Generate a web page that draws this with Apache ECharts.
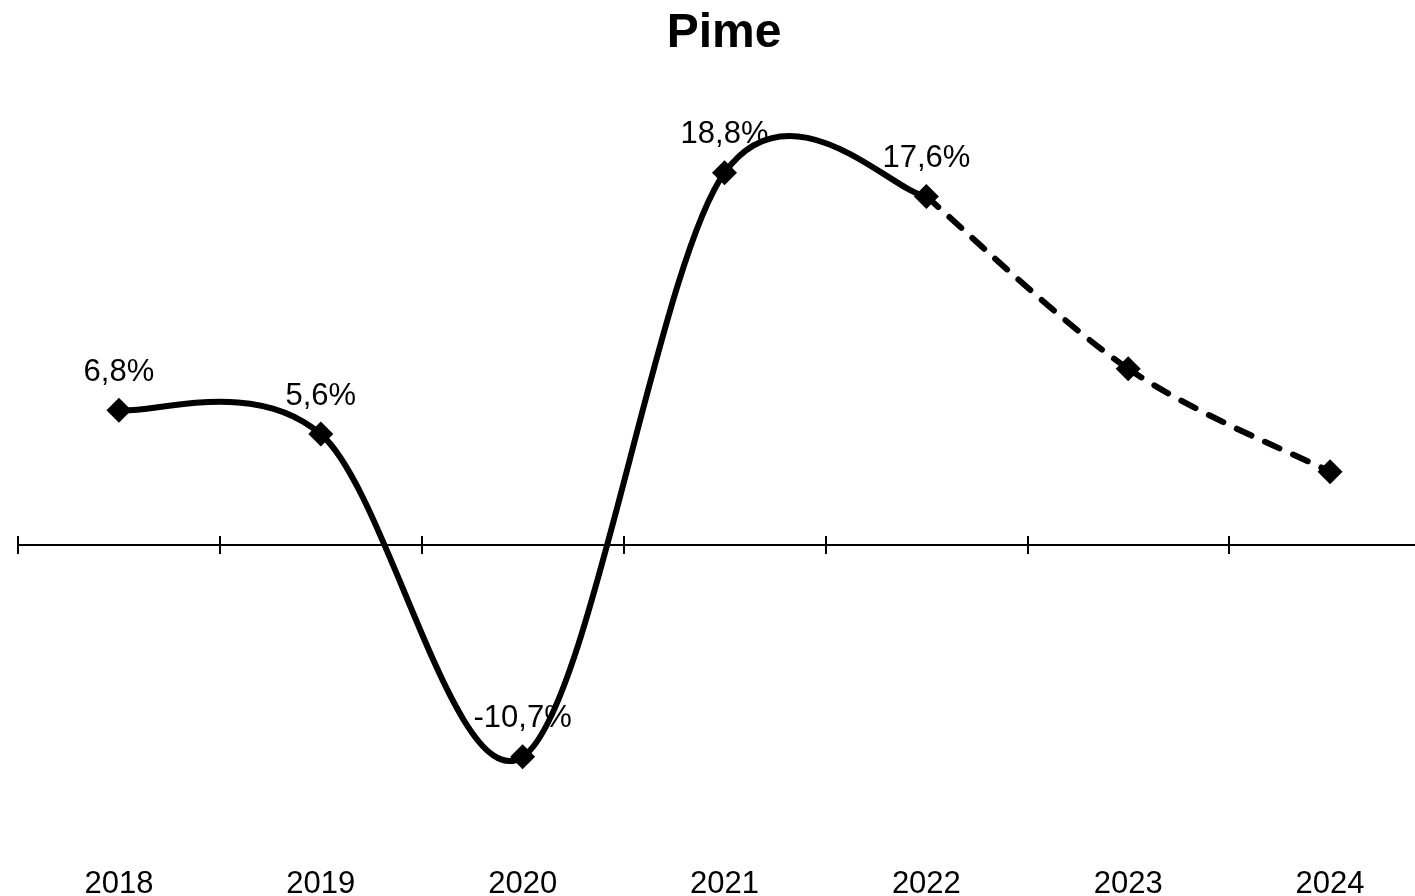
<!DOCTYPE html>
<html>
<head>
<meta charset="utf-8">
<script src="https://cdn.jsdelivr.net/npm/echarts@6/dist/echarts.min.js"></script>
<style>
html,body{margin:0;padding:0;background:#fff;}
#chart{width:1415px;height:896px;}
</style>
</head>
<body>
<div id="chart"></div>
<script>
const years = ['2018', '2019', '2020', '2021', '2022', '2023', '2024'];
const actual = [6.8, 5.6, -10.7, 18.8, 17.6, null, null];
const forecast = [null, null, null, null, 17.6, 8.9, 3.7];
const titleText = 'Pime';

const FONT = '"Liberation Sans", Arial, sans-serif';
const chart = echarts.init(document.getElementById('chart'));

const lineAxis = (pos) => ({
  type: 'category', data: years, position: pos, boundaryGap: true,
  axisLine: { show: true, onZero: true, onZeroAxisIndex: 0, lineStyle: { color: '#000', width: 2 } },
  axisTick: { show: true, length: 9, lineStyle: { color: '#000', width: 2 } },
  axisLabel: { show: false }, splitLine: { show: false }
});

// Smooth (cardinal) curve through the series' points, drawn through the axes' scales
function splineSeries(arr, dashed) {
  const idx = arr.map((v, i) => v == null ? -1 : i).filter(i => i >= 0);
  return {
    type: 'custom', xAxisIndex: 0, yAxisIndex: 0, clip: false, z: 2,
    data: idx.slice(0, -1).map(i => [i, arr[i]]),
    renderItem: function (params, api) {
      const k = params.dataIndex;
      const n = idx.length;
      const P = j => { const jj = Math.max(0, Math.min(n - 1, j)); return api.coord([idx[jj], arr[idx[jj]]]); };
      const p0 = P(k - 1), p1 = P(k), p2 = P(k + 1), p3 = P(k + 2);
      const c1x = p1[0] + (p2[0] - p0[0]) / 6, c1y = p1[1] + (p2[1] - p0[1]) / 6;
      const c2x = p2[0] - (p3[0] - p1[0]) / 6, c2y = p2[1] - (p3[1] - p1[1]) / 6;
      return {
        type: 'bezierCurve',
        shape: { x1: p1[0], y1: p1[1], x2: p2[0], y2: p2[1], cpx1: c1x, cpy1: c1y, cpx2: c2x, cpy2: c2y },
        style: { stroke: '#000', fill: null, lineWidth: 6, lineCap: 'round', lineDash: dashed ? [16, 15] : null }
      };
    }
  };
}

function pointSeries(arr, withLabels) {
  return {
    type: 'scatter', xAxisIndex: 0, yAxisIndex: 0, clip: false, z: 3,
    data: arr.map((v, i) => v == null ? null : [i, v]).filter(d => d),
    symbol: 'diamond', symbolSize: 25,
    itemStyle: { color: '#000', opacity: 1 },
    label: {
      show: withLabels, position: 'top', distance: 10,
      fontFamily: FONT, fontSize: 31, color: '#000', opacity: 1,
      formatter: p => String(p.value[1]).replace('.', ',') + '%'
    }
  };
}

chart.setOption({
  animation: false,
  backgroundColor: '#fff',
  title: {
    text: titleText, left: 719, textAlign: 'center', top: 5,
    textStyle: { fontFamily: FONT, fontSize: 48, fontWeight: 'bold', color: '#000' }
  },
  grid: { left: 18, width: 1413, top: 149, bottom: 54, containLabel: false, outerBoundsMode: 'none' },
  xAxis: [
    lineAxis('bottom'),
    lineAxis('top'),
    {
      type: 'category', data: years, position: 'bottom', boundaryGap: true,
      axisLine: { show: false, onZero: false }, axisTick: { show: false },
      axisLabel: { show: true, fontFamily: FONT, fontSize: 31, color: '#000', margin: 27 },
      splitLine: { show: false }
    }
  ],
  yAxis: { type: 'value', min: -15, max: 20, show: false, splitLine: { show: false } },
  series: [
    splineSeries(actual, false),
    splineSeries(forecast, true),
    pointSeries(actual, true),
    pointSeries(forecast.map((v, i) => actual[i] != null ? null : v), false)
  ]
});
</script>
</body>
</html>
